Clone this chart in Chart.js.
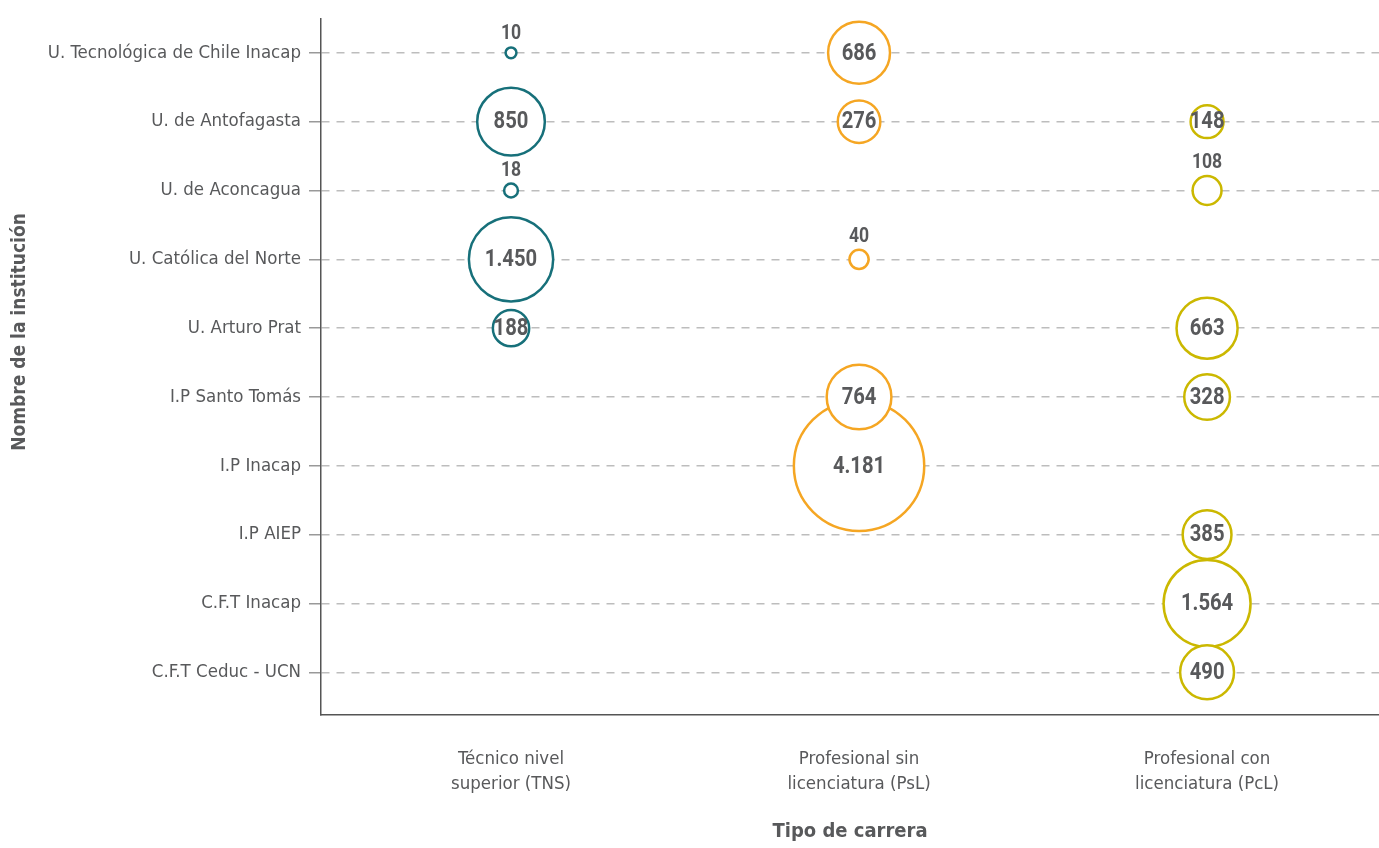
<!DOCTYPE html>
<html>
<head>
<meta charset="utf-8">
<script src="https://cdn.jsdelivr.net/npm/chart.js@4/dist/chart.umd.min.js"></script>
<style>
  html,body{margin:0;padding:0;background:#fff;}
  #wrap{width:1379px;height:848px;position:relative;}
</style>
</head>
<body>
<div id="wrap"><canvas id="c"></canvas></div>
<script>
/* datos: matrícula por institución y tipo de carrera */
const instituciones=['U. Tecnológica de Chile Inacap','U. de Antofagasta','U. de Aconcagua','U. Católica del Norte','U. Arturo Prat','I.P Santo Tomás','I.P Inacap','I.P AIEP','C.F.T Inacap','C.F.T Ceduc - UCN'];
const tipos=[['Técnico nivel','superior (TNS)'],['Profesional sin','licenciatura (PsL)'],['Profesional con','licenciatura (PcL)']];
const tns=[10,850,18,1450,188,null,null,null,null,null];
const psl=[686,276,null,40,null,764,4181,null,null,null];
const pcl=[null,148,108,null,663,328,null,385,1564,490];

const FONT='"DejaVu Sans Condensed","Liberation Sans Narrow",Roboto,sans-serif';
const TXT='#58595b';
const colores=['#17707a','#f5a623','#cbb800'];

function radio(v){return 2.1*Math.pow(v,0.412);}
function fmt(v){return String(v).replace(/\B(?=(\d{3})+(?!\d))/g,'.');}

// puntos ordenados de mayor a menor: los chicos quedan encima
function puntos(serie,xi){
  const p=[];
  serie.forEach((v,i)=>{if(v!=null)p.push({x:xi,y:i,r:radio(v),v});});
  return p.sort((a,b)=>b.v-a.v);
}

// números sobre/dentro de cada burbuja (fuente estrechada a mano)
const etiquetas={id:'etiquetas',afterDatasetsDraw(ch){
  const ctx=ch.ctx;
  ch.data.datasets.forEach((ds,di)=>{
    ch.getDatasetMeta(di).data.forEach((el,i)=>{
      const d=ds.data[i],chico=d.r<15;
      ctx.save();ctx.fillStyle=TXT;ctx.textAlign='center';
      ctx.translate(el.x,chico?el.y-d.r-3:el.y+1);ctx.scale(0.88,1);
      ctx.font=(chico?'bold 20px ':'bold 23px ')+'Roboto,sans-serif';
      ctx.textBaseline=chico?'bottom':'middle';
      ctx.fillText(fmt(d.v),0,0);
      ctx.restore();
    });
  });
  // título eje Y
  ctx.save();ctx.translate(20,332);ctx.rotate(-Math.PI/2);
  ctx.fillStyle=TXT;ctx.font='bold 19px '+FONT;ctx.textAlign='center';ctx.textBaseline='middle';
  ctx.fillText('Nombre de la institución',0,0);ctx.restore();
}};

new Chart(document.getElementById('c'),{
  type:'bubble',
  data:{datasets:[tns,psl,pcl].map((s,k)=>({
    data:puntos(s,k),borderColor:colores[k],backgroundColor:'#fff',borderWidth:2.5,
    hoverBorderWidth:2.5,hoverRadius:0,clip:false}))},
  options:{responsive:true,maintainAspectRatio:false,animation:false,events:[],
    layout:{autoPadding:false,padding:{top:14,right:0,left:0,bottom:0}},
    plugins:{legend:{display:false},tooltip:{enabled:false}},
    scales:{
      x:{type:'linear',min:-0.546,max:2.494,
        afterBuildTicks:s=>{s.ticks=tipos.map((_,i)=>({value:i}));},
        afterFit:s=>{s.height=133;},
        ticks:{callback:v=>tipos[v],color:TXT,font:{family:FONT,size:18.5,lineHeight:1.35},padding:24},
        grid:{display:false},
        border:{display:true,color:'#555',width:1.5},
        title:{display:true,text:'Tipo de carrera',color:TXT,font:{family:FONT,size:20,weight:'bold'},padding:{top:0,bottom:4}}},
      y:{type:'linear',reverse:true,min:-0.49,max:9.62,
        afterBuildTicks:s=>{s.ticks=instituciones.map((_,i)=>({value:i}));},
        afterFit:s=>{s.width=321;},
        ticks:{callback:v=>instituciones[v],color:TXT,font:{family:FONT,size:18.5},padding:8},
        grid:{color:'#bdbdbd',lineWidth:1.5,tickLength:12,tickColor:'#999',tickBorderDash:[]},
        border:{display:true,color:'#555',width:1.5,dash:[8,7]},
        title:{display:false}}
    }},
  plugins:[etiquetas]
});
</script>
</body>
</html>
